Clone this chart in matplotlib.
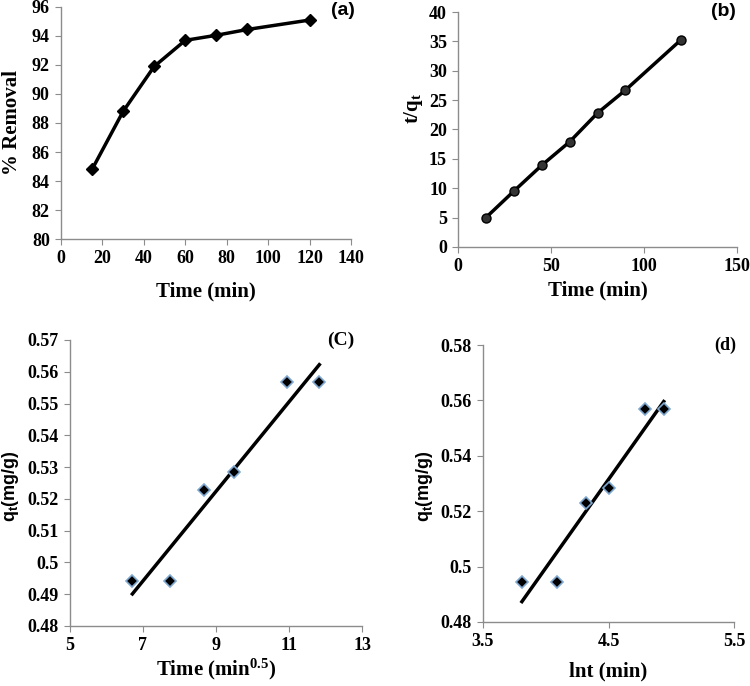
import numpy as np
import matplotlib
matplotlib.use("Agg")
import matplotlib.pyplot as plt

# ---------------------------------------------------------------------
# Datos
# ---------------------------------------------------------------------
time_a = [15, 30, 45, 60, 75, 90, 120]
removal = [84.8, 88.8, 91.9, 93.7, 94.05, 94.45, 95.1]

time_b = [15, 30, 45, 60, 75, 90, 120]
t_over_q = [5.0, 9.5, 13.9, 17.9, 22.8, 26.7, 35.3]

sqrt_t = [6.71, 7.75, 8.66, 9.49, 10.95, 11.83]
ln_t = [3.81, 4.09, 4.32, 4.50, 4.79, 4.94]
q_t = [0.4943, 0.4943, 0.5228, 0.5285, 0.5569, 0.5569]

SERIF = "Liberation Serif"
SANS = "Liberation Sans"
GRAY = "#8c8c8c"
TICK_FS = 13
LABEL_FS = 15

plt.rcParams["font.family"] = SERIF
plt.rcParams["font.weight"] = "bold"
plt.rcParams["mathtext.default"] = "regular"

fig = plt.figure(figsize=(7.5, 6.86), dpi=100)

ax_a = fig.add_axes([0.0813, 0.6516, 0.3867, 0.3382])
ax_b = fig.add_axes([0.6107, 0.640, 0.372, 0.3425])
ax_c = fig.add_axes([0.0933, 0.0875, 0.3894, 0.4169])
ax_d = fig.add_axes([0.644, 0.0933, 0.3347, 0.4037])


def estilo(ax):
    for s in ["top", "right"]:
        ax.spines[s].set_visible(False)
    for s in ["left", "bottom"]:
        ax.spines[s].set_color(GRAY)
        ax.spines[s].set_linewidth(1.0)
    ax.tick_params(direction="out", length=4, color=GRAY, labelsize=TICK_FS, pad=4)
    for lab in ax.get_xticklabels() + ax.get_yticklabels():
        lab.set_fontweight("bold")


# (a) % Removal
ax_a.plot(time_a, removal, color="black", lw=2.5, marker="D", ms=6.5,
          mfc="black", mec="black")
ax_a.set_xlim(0, 140)
ax_a.set_ylim(80, 96)
ax_a.set_xticks(np.arange(0, 141, 20))
ax_a.set_yticks(np.arange(80, 97, 2))
estilo(ax_a)
ax_a.set_xlabel("Time (min)", fontsize=LABEL_FS, fontweight="bold", labelpad=10)
ax_a.set_ylabel("% Removal", fontsize=LABEL_FS, fontweight="bold")
ax_a.yaxis.set_label_coords(-0.134, 0.5)
ax_a.text(1.015, 1.02, "(a)", transform=ax_a.transAxes, ha="right", va="top",
          fontsize=14, fontweight="bold", family=SANS)

# (b) t/qt
ax_b.plot(time_b, t_over_q, color="black", lw=2.5, marker="o", ms=6.5,
          mfc="#333333", mec="black")
ax_b.set_xlim(0, 150)
ax_b.set_ylim(0, 40)
ax_b.set_xticks([0, 50, 100, 150])
ax_b.set_yticks(np.arange(0, 41, 5))
estilo(ax_b)
ax_b.set_xlabel("Time (min)", fontsize=LABEL_FS, fontweight="bold", labelpad=4)
ax_b.set_ylabel("t/q$_{t}$", fontsize=LABEL_FS, fontweight="bold")
ax_b.yaxis.set_label_coords(-0.118, 0.59)
ax_b.text(0.995, 1.04, "(b)", transform=ax_b.transAxes, ha="right", va="top",
          fontsize=14, fontweight="bold", family=SANS)

# (C) difusion intraparticula
m, b = np.polyfit(sqrt_t, q_t, 1)
xs = np.array([min(sqrt_t), max(sqrt_t)])
ax_c.plot(xs, m * xs + b, color="black", lw=2.5)
ax_c.plot(sqrt_t, q_t, ls="none", marker="D", ms=6.5, mfc="black",
          mec="#7fa7cf", mew=1.2)
ax_c.set_xlim(5, 13)
ax_c.set_ylim(0.48, 0.57)
ax_c.set_xticks([5, 7, 9, 11, 13])
ax_c.set_yticks(np.arange(0.48, 0.5701, 0.01))
ax_c.set_yticklabels(["0.48", "0.49", "0.5", "0.51", "0.52", "0.53", "0.54",
                      "0.55", "0.56", "0.57"])
estilo(ax_c)
ax_c.set_xlabel("Time (min$^{0.5}$)", fontsize=LABEL_FS, fontweight="bold", labelpad=2)
ax_c.set_ylabel("q$_{t}$(mg/g)", fontsize=13, fontweight="bold", family=SANS)
ax_c.yaxis.set_label_coords(-0.168, 0.49)
ax_c.text(0.975, 1.03, "(C)", transform=ax_c.transAxes, ha="right", va="top",
          fontsize=14, fontweight="bold")

# (d) Elovich
m2, b2 = np.polyfit(ln_t, q_t, 1)
xs2 = np.array([min(ln_t), max(ln_t)])
ax_d.plot(xs2, m2 * xs2 + b2, color="black", lw=2.5)
ax_d.plot(ln_t, q_t, ls="none", marker="D", ms=6.5, mfc="black",
          mec="#7fa7cf", mew=1.2)
ax_d.set_xlim(3.5, 5.5)
ax_d.set_ylim(0.48, 0.58)
ax_d.set_xticks([3.5, 4.5, 5.5])
ax_d.set_yticks([0.48, 0.5, 0.52, 0.54, 0.56, 0.58])
ax_d.set_yticklabels(["0.48", "0.5", "0.52", "0.54", "0.56", "0.58"])
estilo(ax_d)
ax_d.set_xlabel("lnt (min)", fontsize=LABEL_FS, fontweight="bold", labelpad=8)
ax_d.set_ylabel("q$_{t}$(mg/g)", fontsize=13, fontweight="bold", family=SANS)
ax_d.yaxis.set_label_coords(-0.191, 0.49)
ax_d.text(1.01, 1.03, "(d)", transform=ax_d.transAxes, ha="right", va="top",
          fontsize=13, fontweight="bold")

fig.savefig("out.png", dpi=100)
